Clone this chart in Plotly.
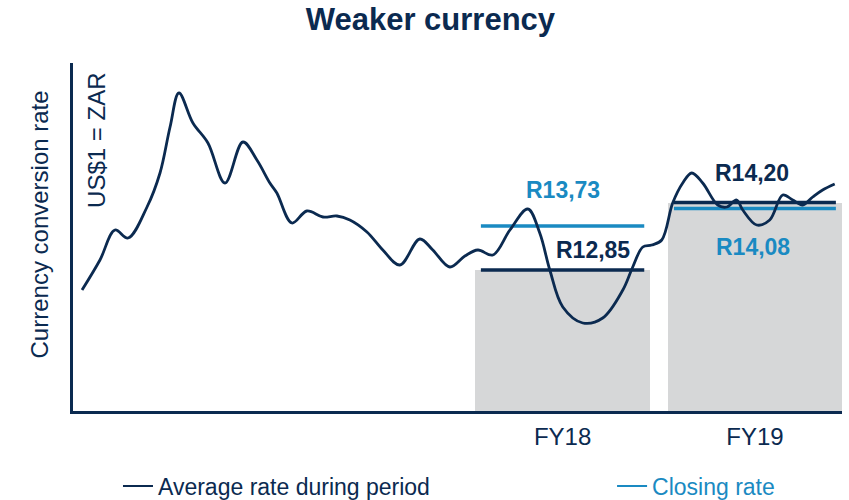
import plotly.graph_objects as go

# ---- data ----
# exchange rate US$1 = ZAR, position in months from start of series
rate_month = [0.0, 1.23, 2.26, 3.16, 4.46, 5.35, 6.04, 6.65, 7.61, 8.64, 9.81, 11.04,
              12.0, 12.89, 13.37, 14.40, 15.43, 16.53, 17.49, 18.38, 19.55, 20.64,
              21.81, 23.18, 24.07, 25.24, 26.27, 27.16, 28.19, 29.36, 30.59, 31.41,
              32.10, 32.99, 34.36, 35.73, 37.11, 37.79, 38.48, 39.09, 39.78, 40.53,
              41.22, 41.84, 42.59, 43.62, 44.24, 44.92, 45.34, 46.30, 47.19, 48.08,
              48.77, 49.45, 50.14, 50.82, 51.65]
rate_value = [12.45, 13.05, 13.65, 13.49, 14.11, 14.79, 15.71, 16.39, 15.79, 15.39, 14.59, 15.41,
              15.05, 14.59, 14.39, 13.79, 14.03, 13.91, 13.93, 13.85, 13.61, 13.25,
              12.95, 13.47, 13.25, 12.91, 13.13, 13.25, 13.15, 13.65, 14.07, 13.59,
              12.85, 12.11, 11.79, 11.89, 12.45, 12.91, 13.31, 13.35, 13.45, 14.19,
              14.59, 14.79, 14.59, 14.15, 14.11, 14.25, 14.05, 13.75, 13.85, 14.35,
              14.25, 14.15, 14.31, 14.45, 14.57]

periods = ["FY18", "FY19"]
period_start = [26.95, 40.20]   # months
period_end = [39.00, 52.15]
average_rate = [12.85, 14.20]
closing_rate = [13.73, 14.08]

NAVY = "#0b2a50"
CYAN = "#1a8ac2"
GREY = "#d6d7d8"
FONT = "Liberation Sans, Arial, sans-serif"

centers = [(s + e) / 2 for s, e in zip(period_start, period_end)]
widths = [e - s for s, e in zip(period_start, period_end)]

fig = go.Figure()

fig.add_trace(go.Bar(x=centers, y=average_rate, width=widths, marker_color=GREY,
                     marker_line_width=0, showlegend=False, hoverinfo="skip"))

inset = 0.42
avg_x, avg_y, clo_x, clo_y = [], [], [], []
for s, e, a, c in zip(period_start, period_end, average_rate, closing_rate):
    avg_x += [s + inset, e - inset, None]
    avg_y += [a, a, None]
    clo_x += [s + inset, e - inset, None]
    clo_y += [c, c, None]

fig.add_trace(go.Scatter(x=clo_x, y=clo_y, mode="lines", line=dict(color=CYAN, width=3.5),
                         showlegend=False, hoverinfo="skip"))
fig.add_trace(go.Scatter(x=avg_x, y=avg_y, mode="lines", line=dict(color=NAVY, width=3.5),
                         showlegend=False, hoverinfo="skip"))

fig.add_trace(go.Scatter(x=rate_month, y=rate_value, mode="lines",
                         line=dict(color=NAVY, width=2.8, shape="spline", smoothing=1.0),
                         showlegend=False))

# legend-only entries
fig.add_trace(go.Scatter(x=[None], y=[None], mode="lines", line=dict(color=NAVY, width=2),
                         name="Average rate during period", legend="legend"))
fig.add_trace(go.Scatter(x=[None], y=[None], mode="lines", line=dict(color=CYAN, width=2),
                         name="Closing rate", legend="legend2"))

def fmt(v):
    return "R" + f"{v:.2f}".replace(".", ",")

ann = []
ann.append(dict(x=centers[0], y=closing_rate[0], text=fmt(closing_rate[0]), xshift=0, yshift=36,
                font=dict(color=CYAN)))
ann.append(dict(x=centers[0], y=average_rate[0], text=fmt(average_rate[0]), xshift=30, yshift=20,
                font=dict(color=NAVY)))
ann.append(dict(x=centers[1], y=average_rate[1], text=fmt(average_rate[1]), xshift=-3, yshift=30,
                font=dict(color=NAVY)))
ann.append(dict(x=centers[1], y=closing_rate[1], text=fmt(closing_rate[1]), xshift=-2, yshift=-38,
                font=dict(color=CYAN)))
for a in ann:
    a.update(xref="x", yref="y", showarrow=False, xanchor="center", yanchor="middle")
    a["font"].update(family=FONT, size=23)
    a["text"] = "<b>" + a["text"] + "</b>"

ann.append(dict(xref="paper", yref="paper", x=-0.0442, y=0.536, text="Currency conversion rate",
                textangle=-90, showarrow=False, xanchor="center", yanchor="middle",
                font=dict(family=FONT, size=24, color=NAVY)))
ann.append(dict(xref="paper", yref="paper", x=0.0312, y=0.779, text="US$1 = ZAR",
                textangle=-90, showarrow=False, xanchor="center", yanchor="middle",
                font=dict(family=FONT, size=24, color=NAVY)))

legend_common = dict(orientation="h", y=-0.2155, yanchor="middle", bgcolor="rgba(0,0,0,0)",
                     borderwidth=0)

fig.update_layout(
    width=849, height=500,
    margin=dict(l=73, r=7, t=63, b=89, autoexpand=False),
    paper_bgcolor="white", plot_bgcolor="white",
    title=dict(text="<b>Weaker currency</b>", x=0.507, xanchor="center",
               y=1 - 19 / 500, yanchor="middle", yref="container",
               font=dict(family=FONT, size=31, color=NAVY)),
    xaxis=dict(range=[-0.62, 52.15], showgrid=False, zeroline=False,
               showline=True, linecolor=NAVY, linewidth=3,
               tickvals=centers, ticktext=periods, ticks="",
               tickfont=dict(family=FONT, size=24, color=NAVY), ticklabelstandoff=2),
    yaxis=dict(range=[10.03, 16.99], showgrid=False, zeroline=False,
               showline=True, linecolor=NAVY, linewidth=3, showticklabels=False, ticks=""),
    legend=dict(x=0.0585, xanchor="left", font=dict(family=FONT, size=23, color=NAVY),
                **legend_common),
    legend2=dict(x=0.701, xanchor="left", font=dict(family=FONT, size=23, color=CYAN),
                 **legend_common),
    annotations=ann,
    showlegend=True,
    bargap=0,
)

fig.write_html("out.html", config={"displayModeBar": False},
               post_script="document.body.style.margin='0';document.body.style.overflow='hidden';")
